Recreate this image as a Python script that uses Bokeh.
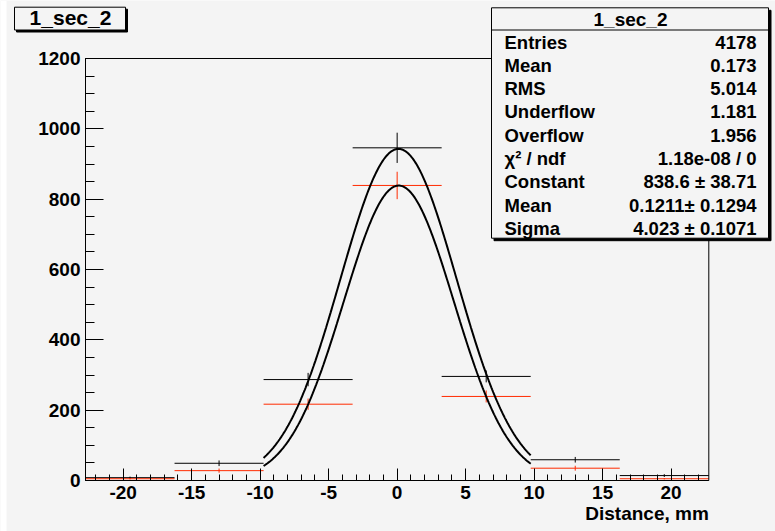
import numpy as np
from bokeh.plotting import figure
from bokeh.models import (SingleIntervalTicker, Label, BoxAnnotation, Range1d,
                          ColumnDataSource, PrintfTickFormatter)
from bokeh.embed import file_html
from bokeh.resources import INLINE

# ---- data ----
bin_centers = [-19.5, -13.0, -6.5, 0.0, 6.5, 13.0, 19.5]
bin_half_width = 3.25
black_counts = [8, 49, 287, 946, 296, 59, 14]
black_errors = [3, 8, 19, 43, 17, 8, 4]
red_counts = [5, 28, 217, 839, 239, 35, 5]
red_errors = [2, 6, 16, 39, 17, 7, 2]

# gaussian fit parameters
fit_red = dict(constant=838.6, mean=0.1211, sigma=4.023)
fit_black = dict(constant=943.0, mean=0.1, sigma=4.25)
fit_range = (-9.75, 9.75)

x_axis_range = (-22.75, 22.75)
y_axis_range = (0, 1200)

title_text = "1_sec_2"
x_title = "Distance, mm"
stats_labels = ["Entries", "Mean", "RMS", "Underflow", "Overflow",
                "\u03c7\u00b2 / ndf", "Constant", "Mean", "Sigma"]
stats_values = ["4178", "0.173", "5.014", "1.181", "1.956",
                "1.18e-08 / 0", "838.6 \u00b1 38.71", "0.1211\u00b1 0.1294", "4.023 \u00b1 0.1071"]

BG = "#f4f4f4"
RED = "#ff2a00"
FONT = "Liberation Sans"
W, H = 775, 531
# pixel placement of the plotting frame inside the canvas
FL, FR, FT, FB = 85.0, 708.3, 58.0, 480.0

kx = (FR - FL) / (x_axis_range[1] - x_axis_range[0])
ky = (FB - FT) / (y_axis_range[1] - y_axis_range[0])
xr = Range1d(x_axis_range[0] - FL / kx, x_axis_range[1] + (W - FR) / kx)
yr = Range1d(y_axis_range[0] - (H - FB) / ky, y_axis_range[1] + FT / ky)

p = figure(width=W, height=H, x_range=xr, y_range=yr,
           min_border_left=0, min_border_right=0, min_border_top=0, min_border_bottom=0,
           output_backend="svg", toolbar_location=None)
p.background_fill_color = BG
p.border_fill_color = BG
p.outline_line_color = None
p.xgrid.visible = False
p.ygrid.visible = False

p.xaxis.fixed_location = y_axis_range[0]
p.yaxis.fixed_location = x_axis_range[0]
p.xaxis.bounds = x_axis_range
p.yaxis.bounds = y_axis_range
p.xaxis.ticker = SingleIntervalTicker(interval=5, num_minor_ticks=5)
p.yaxis.ticker = SingleIntervalTicker(interval=200, num_minor_ticks=4)
for ax, maj, mn in ((p.xaxis, 12, 6), (p.yaxis, 18, 9)):
    ax.formatter = PrintfTickFormatter(format="%d")
    ax.major_tick_in = maj
    ax.major_tick_out = 0
    ax.minor_tick_in = mn
    ax.minor_tick_out = 0
    ax.axis_line_color = "black"
    ax.major_tick_line_color = "black"
    ax.minor_tick_line_color = "black"
    ax.major_label_text_font = FONT
    ax.major_label_text_font_style = "bold"
    ax.major_label_text_font_size = "19px"
    ax.major_label_text_color = "black"
    ax.major_label_standoff = 5

# white strip at the far left of the canvas
p.add_layout(BoxAnnotation(left=0, right=6, top=H, bottom=0, left_units="screen",
                           right_units="screen", top_units="screen", bottom_units="screen",
                           fill_color="white", fill_alpha=1, line_alpha=0, level="underlay"))
# plotting frame border
p.add_layout(BoxAnnotation(left=x_axis_range[0], right=x_axis_range[1],
                           bottom=y_axis_range[0], top=y_axis_range[1],
                           fill_alpha=0, line_color="black", line_width=1, line_alpha=1))

bc = np.array(bin_centers)

def draw_hist(counts, errors, color):
    c = np.array(counts, dtype=float)
    e = np.array(errors, dtype=float)
    src = ColumnDataSource(dict(x0=bc - bin_half_width, x1=bc + bin_half_width, y=c,
                                xc=bc, ylo=c - e, yhi=c + e))
    p.segment(x0="x0", x1="x1", y0="y", y1="y", source=src, line_color=color, line_width=1)
    p.segment(x0="xc", x1="xc", y0="ylo", y1="yhi", source=src, line_color=color, line_width=1)

draw_hist(black_counts, black_errors, "black")
draw_hist(red_counts, red_errors, RED)

xs = np.linspace(fit_range[0], fit_range[1], 300)
for f in (fit_black, fit_red):
    ys = f["constant"] * np.exp(-0.5 * ((xs - f["mean"]) / f["sigma"]) ** 2)
    p.line(xs, ys, line_color="black", line_width=2)

def sy(page_y):
    return H - page_y

def text(x, page_y, s, align, size):
    p.add_layout(Label(x=x, y=sy(page_y), x_units="screen", y_units="screen", text=s,
                       text_align=align, text_baseline="middle", text_font=FONT,
                       text_font_style="bold", text_font_size=size, text_color="black"))

def box(l, r, t, b, shadow):
    p.add_layout(BoxAnnotation(left=l + shadow, right=r + shadow, top=sy(t + shadow),
                               bottom=sy(b + shadow),
                               left_units="screen", right_units="screen", top_units="screen",
                               bottom_units="screen", fill_color="black", fill_alpha=1,
                               line_color="black", line_alpha=1))
    p.add_layout(BoxAnnotation(left=l, right=r, top=sy(t), bottom=sy(b),
                               left_units="screen", right_units="screen", top_units="screen",
                               bottom_units="screen", fill_color=BG, fill_alpha=1,
                               line_color="black", line_alpha=1, line_width=1))

# x axis title, right aligned at the frame right edge
text(FR, 513, x_title, "right", "19px")

# title box
box(14, 125, 6.7, 29.5, 2)
text(70, 17.0, title_text, "center", "21px")

# stats box
box(491, 768, 7.3, 237.7, 2.5)
p.add_layout(BoxAnnotation(left=491, right=768, top=sy(29), bottom=sy(30),
                           left_units="screen", right_units="screen", top_units="screen",
                           bottom_units="screen", fill_color="black", fill_alpha=1,
                           line_alpha=0))
text(630, 19.0, title_text, "center", "19px")
for i, (lab, val) in enumerate(zip(stats_labels, stats_values)):
    yy = 41.5 + 23.3 * i
    text(504, yy, lab, "left", "18.5px")
    text(756, yy, val, "right", "18.5px")

open("out.html", "w").write(file_html(p, INLINE))
